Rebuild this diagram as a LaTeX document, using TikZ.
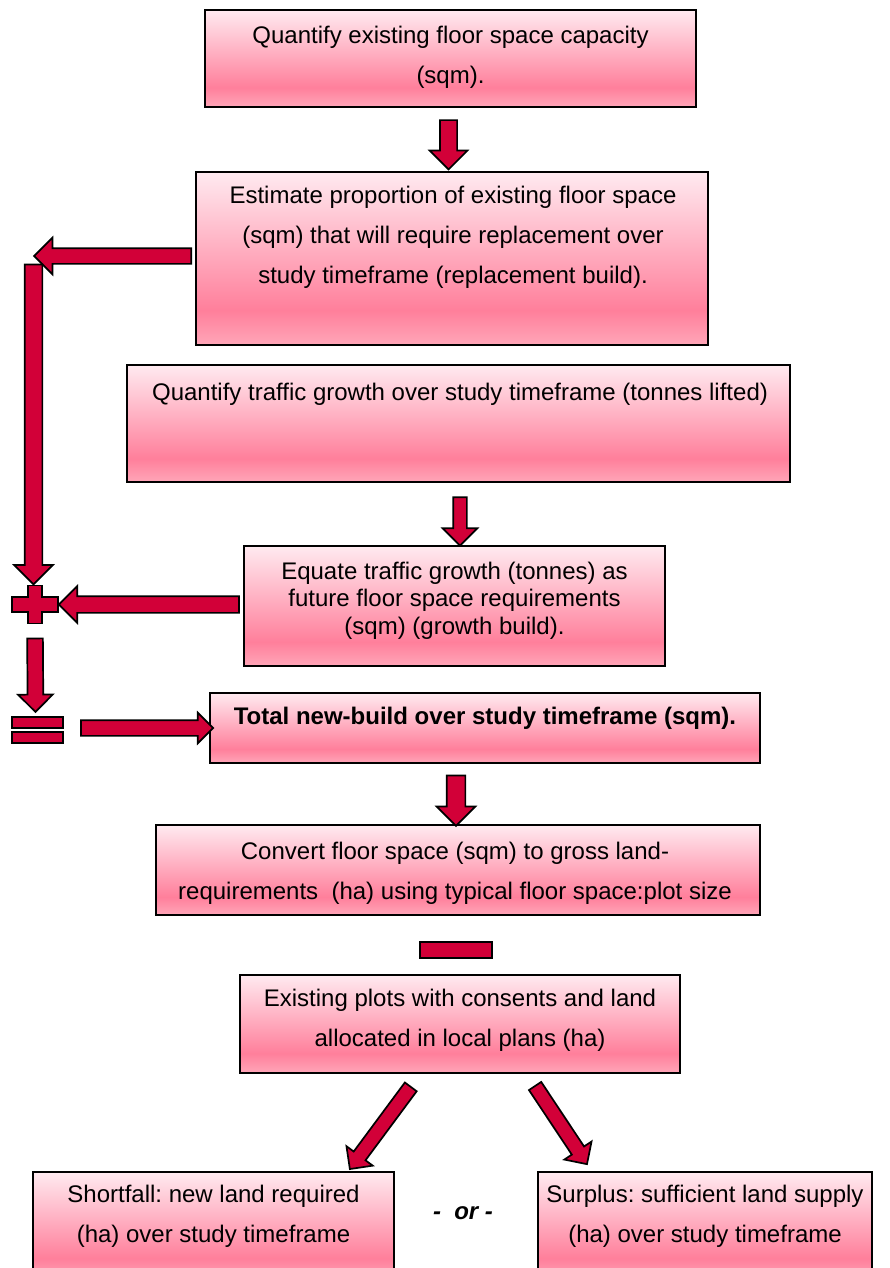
\documentclass[tikz,border=0pt]{standalone}
\usepackage{fontspec}
\setmainfont{Liberation Sans}
\usetikzlibrary{shapes.arrows,calc,positioning}
\frenchspacing

\definecolor{arrowred}{HTML}{D20038}
\definecolor{pinktop}{HTML}{FFEAF0}
\definecolor{pinkdeep}{HTML}{FF7F9B}
\definecolor{pinklow}{HTML}{FFA6B8}

% box fill: light at the top, deepest near the bottom
\pgfdeclareverticalshading{pinkfade}{100bp}{color(0bp)=(pinklow); color(25bp)=(pinklow); color(35bp)=(pinkdeep); color(75bp)=(pinktop); color(100bp)=(pinktop)}

% fat arrow between two named points: {head width}{shaft width}{from}{to}
\newcommand{\blockarrow}[4]{%
  \path let \p1=($(#4)-(#3)$), \n1={veclen(\x1,\y1)} in
    (#3) -- (#4) node[midway, sloped, allow upside down, fatarrow,
      inner ysep={#2/2}, minimum width=#1, single arrow head extend={(#1-#2)/2},
      minimum height=\n1] {};}

\begin{document}
\begin{tikzpicture}[x=1pt, y=-1pt,
  stage/.style={draw=black, line width=1.7pt, shade, shading=pinkfade, inner sep=0pt},
  stagetext/.style={align=center, inner sep=0pt, font=\fontsize{24}{40}\selectfont},
  fatarrow/.style={single arrow, draw=black, line width=1.7pt, fill=arrowred,
    inner xsep=0pt, text height=0pt, text depth=0pt, single arrow head indent=0pt},
  sign/.style={draw=black, line width=1.7pt, fill=arrowred}]

  \useasboundingbox (0,0) rectangle (890,1268);

  % Stages
  \node[stage, minimum width=491, minimum height=97]  (b1) at (450.5,58.5) {};
  \node[stage, minimum width=512, minimum height=173] (b2) at (452,258.5) {};
  \node[stage, minimum width=663, minimum height=117] (b3) at (458.5,423.5) {};
  \node[stage, minimum width=421, minimum height=120] (b4) at (454.5,606) {};
  \node[stage, minimum width=550, minimum height=70]  (b5) at (485,728) {};
  \node[stage, minimum width=604, minimum height=90]  (b6) at (458,870) {};
  \node[stage, minimum width=440, minimum height=98]  (b7) at (460,1024) {};
  \node[stage, minimum width=361, minimum height=108] (b8) at (213.5,1226) {};
  \node[stage, minimum width=334, minimum height=108] (b9) at (705,1226) {};

  % Texts of the stages
  \node[stagetext] (t1) at ($(b1)+(0,-1.5)$) {Quantify existing floor space capacity\\(sqm).};
  \node[stagetext] (t2) at ($(b2)+(1,-21)$) {Estimate proportion of existing floor space\\(sqm) that will require replacement over\\study timeframe (replacement build).};
  \node[stagetext] (t3) at ($(b3)+(1.5,-29.5)$) {Quantify traffic growth over study timeframe (tonnes lifted)};
  \node[stagetext, font=\fontsize{24}{27.5}\selectfont] (t4) at ($(b4)+(0,-5.5)$) {Equate traffic growth (tonnes) as\\future floor space requirements\\(sqm) (growth build).};
  \node[stagetext, font=\fontsize{24}{40}\selectfont\bfseries] (t5) at ($(b5)+(0,-10)$) {Total new-build over study timeframe (sqm).};
  \node[stagetext] (t6) at ($(b6)+(-3,3)$) {Convert floor space (sqm) to gross land-\\requirements\ \ (ha) using typical floor space:plot size};
  \node[stagetext] (t7) at ($(b7)+(0,-4)$) {Existing plots with consents and land\\allocated in local plans (ha)};
  \node[stagetext] (t8) at ($(b8.north)+(0,45)$) {Shortfall: new land required\\(ha) over study timeframe};
  \node[stagetext] (t9) at ($(b9.north)+(0,45)$) {Surplus: sufficient land supply\\(ha) over study timeframe};
  \node[font=\fontsize{24}{28}\selectfont\bfseries\itshape] (or) at ($(b8.east)!0.5!(b9.west)+(-3,-13)$) {-\ \ or -};

  % Signs on the left and the minus
  \coordinate (plus) at (35,604.5);
  \coordinate (eq) at (37.5,730);
  \coordinate (minus) at (456,950);
  \draw[sign] ($(plus)+(-7,-19)$) -- ++(14,0) -- ++(0,11.5) -- ++(16,0) -- ++(0,15)
    -- ++(-16,0) -- ++(0,11.5) -- ++(-14,0) -- ++(0,-11.5) -- ++(-16,0)
    -- ++(0,-15) -- ++(16,0) -- cycle;
  \draw[sign] ($(eq)+(-25.5,-13)$) rectangle ++(51,11);
  \draw[sign] ($(eq)+(-25.5,2)$) rectangle ++(51,11);
  \draw[sign] ($(minus)+(-36,-8)$) rectangle ++(72,16);

  % Arrow ends
  \coordinate (a1s) at ($(b1.south)+(-2,8)$);
  \coordinate (a1e) at ($(b2.north)+(-3.5,-6)$);
  \coordinate (turn) at (38,256);
  \coordinate (down) at (33.5,260);
  \coordinate (downe) at (33.5,580);
  \coordinate (a3s) at ($(b3.south)+(1.5,11)$);
  \coordinate (a3e) at ($(b4.north)+(5.5,-3)$);
  \coordinate (plusin) at ($(plus)+(28,0)$);
  \coordinate (plusout) at ($(plus)+(0,30)$);
  \coordinate (eqin) at ($(eq)+(-2,-22)$);
  \coordinate (eqout) at ($(eq)+(39.5,-2)$);
  \coordinate (a5s) at ($(b5.south)+(-29,7)$);
  \coordinate (a5e) at ($(b6.north)+(-2,-3)$);
  \coordinate (a7s) at ($(b7.south)+(-47,10)$);
  \coordinate (a7e) at ($(b8.north)+(138.5,-5)$);
  \coordinate (a8s) at ($(b7.south)+(73,9)$);
  \coordinate (a8e) at ($(b9.north)+(-120,-10)$);

  % Fat arrows
  \blockarrow{36}{15.5}{a1s}{a1e}
  \blockarrow{35}{14}{b2.west |- turn}{turn}
  \blockarrow{37}{16}{down}{downe}
  \blockarrow{33}{12}{a3s}{a3e}
  \blockarrow{35}{15}{b4.west |- plus}{plusin}
  \blockarrow{33}{14}{plusout}{eqin}
  \blockarrow{29}{14}{eqout}{b5.west}
  \blockarrow{37}{17}{a5s}{a5e}
  \blockarrow{31}{13}{a7s}{a7e}
  \blockarrow{31}{13}{a8s}{a8e}
\end{tikzpicture}
\end{document}
